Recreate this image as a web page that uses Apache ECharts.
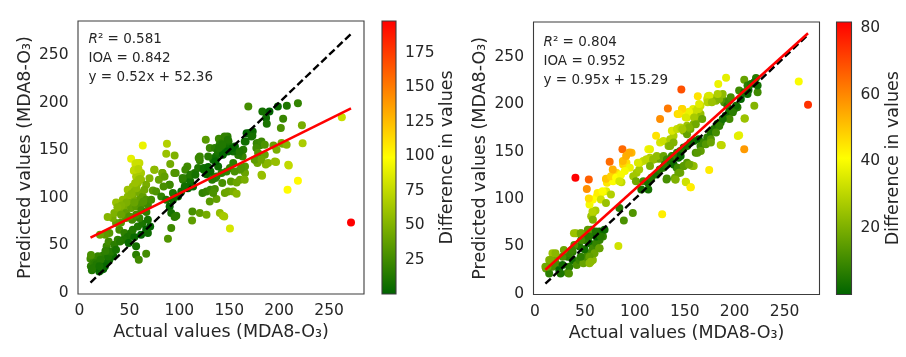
<!DOCTYPE html>
<html><head><meta charset="utf-8">
<script src="https://cdn.jsdelivr.net/npm/echarts@6/dist/echarts.min.js"></script>
<style>html,body{margin:0;padding:0;background:#fff}#c{width:906px;height:357px}</style>
</head><body><div id="c"></div>
<script>
// ---------- DATA ----------
// [actual, predicted] pairs, model 1 (left panel)
const leftPoints = [
[11,36],[11.4,28],[13.8,31.5],[16.4,26.2],[19.8,22.7],[23.8,25.2],[14.8,36.7],[19.8,33.2],[25.8,31.5],[29.9,35],[33.9,38.5],[31.5,42.7],[27.2,49],[29.2,54.2],[34.9,50.7],[38.3,56],[23.2,39.2],[18.5,38.5],[11.5,40],[12.4,23.8],[15.4,31.5],[22,24.4],[25.5,28],[28.8,38.4],[30.5,43.7],[17,30],[21,35],[26,44],[13,26],[20,28],
[39.9,66.4],[45,62.9],[48.3,58.7],[51.7,62.9],[55,58.7],[44,55.9],[49.3,52.4],[53.4,66.4],[58.4,69.9],[62.8,72.7],[66.8,66.4],[70.8,69.9],[68.5,76.9],[60,78.7],[52.7,76.9],[46.6,78.7],[41.6,74.1],[36.6,73.4],[33.2,78.7],[29.9,62.9],[25.8,61.2],[20.5,61.2],[61.7,61.2],[56.7,49],[36.6,45.5],[40.6,54.2],[68.5,63],[56.7,40.2],[59.4,35],[66.8,41.3],
[51.7,140.9],[63.4,154.9],[56,135.7],[58.4,131.1],[54.4,128.3],[61.7,125.9],[56.7,122.4],[61.7,118.9],[58.4,115.4],[53.4,111.9],[48.3,108.4],[55,106.6],[60,104.9],[63.4,101.4],[66.8,97.9],[60,97.9],[53.4,99.7],[48.3,101.4],[43.3,97.9],[36.6,95.1],[50,94.4],[45,90.9],[39.9,87.4],[34.9,83.9],[51.7,89.2],[56.7,90.9],[61.7,92.7],[68.5,92.7],[71.8,97.9],[73.5,107.7],[75.2,129.4],[70.1,120.6],[66.8,113.6],[65.1,108.4],[46.6,83.9],[41.6,82.2],[50,80.4],[56.7,82.2],[28.2,79.7],[60,136.4],[57,110],[52,104],[64,96],[47,95],[42,92],[38,90],[55,95],[62,87],[67,85],[59,119],
[87.6,156.6],[86.9,146.2],[95.3,144.4],[90.9,135.3],[96.3,125.9],[82.9,125.9],[84.2,122.4],[90.3,113.6],[79.5,118.9],[76.8,106.6],[81.9,101.4],[86.9,97.9],[93.6,104.9],[98.7,101.4],[102,106.6],[103.7,118.9],[108,132.9],[107,120.6],[112,124.1],[115.4,125.9],[118.8,131.1],[120.5,143.4],[120.5,139.2],[124.5,131.1],[127.2,124.8],[111,117.1],[113.8,111.9],[108.7,110.1],[105.4,111.9],[126.5,160.8],[93.6,97.9],[90.3,90.9],[91.9,83.9],[95.3,79.7],[97,81.1],[91.9,68.2],[88.6,57],[113.1,85.7],[112.8,76.2],[120.5,83.9],[127.2,82.2],[123.2,104.9],[127.2,106.6],[131.2,108.4],[135.6,109.1],[130.5,96.2],[137.2,98.6],[133.9,104.9],[140.6,83.9],[143.6,81.1],[145,80.4],[150.7,67.8],[145.6,104.9],[149,106.6],[154,106.6],[157.4,104.2],[151.7,117.1],[157.4,116.1],[160.7,118.9],[165.8,125.9],[165.8,132.9],[163.4,143.4],[164.1,150.3],[159,145],[154,136.4],[150.7,131.1],[147.3,127.6],[142.3,125.9],[137.2,122.4],[133.9,120.6],[138.9,132.9],[136.6,143.4],[133.9,139.9],[128.9,143.4],[130.5,152.1],[135.6,152.1],[140.6,153.8],[147.3,153.8],[149.3,159.1],[148.3,164.3],[139.6,161.9],[142.3,157.3],[144,146.9],[154,148.6],[155.7,153.8],[167.4,167.8],[173.5,169.6],[173.2,165],[166.4,159.1],[177.5,157.3],[180.9,155.2],[175.8,139.9],[178.2,136.4],[182.9,123.1],[186.6,135],[194.3,154.9],[196.9,137.4],[203.4,156.6],[209.7,133.9],[208.4,108.4],[218.8,117.8],[223.5,157.3],[222.8,176.2],[201.7,173.1],[204,182.9],[186.9,183.6],[187.6,177.6],[169.1,195.8],[183.2,190.6],[190.3,190.6],[198.7,195.8],[207.7,196.5],[218.8,199.3],[262.8,184.6],[272,74],[160.7,129.4],
[145.3,164.3],[148.6,160.9],[140.3,155.6],[138.6,148.6],[143.6,145.1],[148.6,148.6],[153.7,152.2],[160.4,148.6],[165.5,159.1],[170.5,167.9],[172.2,164.3],[178.9,157.4],[182.3,159.1],[185.6,155.6],[177.2,152.2],[178.9,146.9],[175.5,139.9],[185.6,145.1],[182.3,139.9],[188.9,136.4],[195.7,138.1],[202.4,157.4],[197.4,150.4],[209.1,134.6],[207.5,155.6],[182.3,124.1],[165.5,118.9],[162.1,131.2],[155.4,127.6],
[57.4,136.4],[55,129.4],[59,130.1],[60.7,119.6],[55.7,115.4],[74.8,129.4],[83.2,125.9],[85.2,122.4],[95,125.9],[90.2,113.6],[84.2,111.9],[103.3,120.7],[106,129.4],[111,124.1],[116.1,124.1],[119.4,141.6],[124.5,129.4],[128.9,132.2],[131.2,127.6],[136.2,138.1],[139.6,152.1],[143,155.6],[136.2,120.7],[143,115.4],[132.9,118.9]
];
// [actual, predicted] pairs, model 2 (right panel)
const rightPoints = [
[11,26.6],[14.2,21.3],[17.5,28.4],[20.9,31.9],[24.3,24.8],[27.6,30.1],[32.7,22],[34.4,28.4],[37.7,35.5],[32.7,39],[27.6,39],[20.9,39],[17.5,42.6],[14.2,35.5],[12.5,28.4],[41.8,30.1],[44.5,35.5],[48.5,31.9],[51.2,39],[54.6,31.9],[58,35.5],[52.9,42.6],[49.5,46.8],[44.5,49.6],[39.4,51.4],[37.7,44.3],[41.1,63.8],[46.2,63.8],[51.2,58.5],[54.6,53.2],[58,47.9],[61.3,53.2],[64.7,56.7],[68.1,60.3],[69.7,67.4],[64.7,65.6],[59.6,63.8],[56.3,67.4],[52.9,67.4],[49.5,56.7],[46.2,56.7],[34.4,42.6],[64.7,47.9],[59.6,42.6],[54.6,39],[61.3,60.3],[83.5,50.3],[89,77.2],[98,85.1],[84.5,90.4],[10.4,28.3],[15.5,35.4],[20.5,42.6],[28.9,46],[37,46],[39,63.8],[45.8,63.8],[54.2,60.2],[61,65.5],[65.8,60.2],[64.3,47.9],[55.9,33.6],[34,21.3],[25.6,21.3],[45.8,38.9],
[56.3,81.6],[58,85.1],[60.6,87.9],[58,78],[57.6,86.8],[54.6,94],[58,99.3],[62,102.8],[66.4,106.4],[71.4,108.2],[53.9,100.4],[51.9,110.6],[53.9,120.6],[40.5,122.3],[71.4,120.6],[76.5,120.6],[72.1,117],[78.2,118.8],[74.8,139.4],[87.6,152.5],[96.7,148.9],[88.3,136.5],[91.6,138.3],[95,133],[90,129.4],[81.5,127.7],[84.9,124.1],[86.6,117.7],[98.4,124.1],[101.8,127.7],[104.4,131.2],[101.1,118.8],[105.1,138.3],[108.5,140.1],[111.9,141.8],[115.2,143.6],[118.6,141.8],[122,142.6],[125.3,142.6],[113.5,152.5],[115.2,152.5],[121.3,166.7],[125.3,184.4],[133.1,195.7],[146.6,215.6],[142.9,189.7],[147.2,195],[148.9,191.5],[152.3,186.2],[155.7,191.5],[158.4,195],[163.1,208.5],[173.2,208.5],[183.6,221.6],[191.4,228],[209.6,225.9],[204.5,214.5],[212.9,211],[213.9,215.2],[223,212.8],[219.7,198.6],[221.4,227.7],[264.2,224.1],[273.5,199.6],[210.2,185.1],[204.5,167.4],[209.6,152.5],[186,157],[174.5,130.5],[155.7,112.4],[151.3,117.7],[127.4,83.7],[140.5,120.6],[132.1,121.6],[113.5,109.9],[108.5,118.8],
[62.7,106.4],[67.7,108.1],[66,99.3],[71.1,95.7],[76.1,104.6],[71.1,121.3],[76.1,124],[81.2,122.3],[86.2,125.9],[84.5,118.7],[77.9,131.2],[88,140],[91.3,145.3],[94.6,149],
[106.5,109.9],[113.2,117],[116.6,122.3],[121.6,125.9],[125,131.2],[128.4,133],[130,136.5],[131.8,120.5],[140.2,122.3],[143.6,127.7],[141.9,133],[136.8,138.3],[133.5,141.8],[138.5,145.3],[143.6,143.6],[103.1,138.3],[111.5,141.8],[118.3,141.8],
[125.3,159.6],[128.7,161.3],[135.4,163.1],[138.8,166.7],[137.1,172],[142.2,173.8],[145.6,175.5],[148.9,172],[152.3,168.4],[155.7,173.8],[159,179.1],[162.4,184.4],[165.8,189.7],[164.1,195],[165.8,198.6],[172.5,205.7],[175.9,203.9],[179.2,206.4],[182.6,205.7],[186,209.2],[187.7,205.7],[189.4,202.1],[192.7,198.6],[194.4,203.9],[196.1,207.4],[122,145.4],[115.2,134.8],[128.7,145.4],[133.8,156],[138.8,159.6],[152.3,177.3],[159,191.5],[167.5,184.4],[135.4,156],
[132.1,141.8],[137.1,145.4],[142.2,148.9],[145.6,150.7],[148.9,154.3],[152.3,156],[155.7,159.6],[159,161.3],[164.1,163.1],[165.8,156],[169.1,159.6],[172.5,164.9],[175.9,170.2],[179.2,173.8],[182.6,179.1],[186,180.9],[191,188],[194.4,191.5],[199.5,195],[202.8,196.8],[206.2,205.7],[209.6,212.8],[212.9,219.9],[216.3,221.6],[219.7,223.4],[223,219.9],[135.4,140.1],[138.8,136.5],[142.9,133],[145.6,127.7],[148.9,134.8],[152.3,138.3],[156.3,135.8],[159,134.8],
[174.5,209.1],[172.9,202.1],[181.3,203.8],[184.6,205.6],[188,211],[183,211],[177.2,202.1],[162.8,195],[164.4,200.3],[154.3,192.1],[147.6,195],[144.2,189.7],[151,186.2],[159.4,186.2],[161.1,179],[154.3,175.5],[147.6,173.7],[201.5,198.5],[198.2,191.5],[194.8,184.4],[188,184.4],[184.6,177.2],[181.3,170.2],[176.2,163.1],[171.2,157.8],[166.1,150.7],[161,148.9],[176.2,159.6],[187.1,156.7],[203.2,166.6],[209.9,185.1],[162.8,148.9],[145.9,145.3],[149.2,134.7],[157.7,134.7],[154.3,136.5],[144.2,127.7],[140.9,120.5],[151,118.1],[156.1,112.3]
];
const leftFit = [0.52, 52.36];   // slope, intercept
const rightFit = [0.95, 15.29];
const leftStats = ['0.581', '0.842', 'y = 0.52x + 52.36'];
const rightStats = ['0.804', '0.952', 'y = 0.95x + 15.29'];
const axisTicks = [0, 50, 100, 150, 200, 250];
const cbTicksLeft = [25, 50, 75, 100, 125, 150, 175];
const cbTicksRight = [20, 40, 60, 80];
const cmapColors = ['#006400', '#ffff00', '#ff0000'];

// ---------- CHART ----------
const FONT = 'DejaVu Sans';
const TXT = '#262626';
const FRAME = '#3c3c3c';
const chart = echarts.init(document.getElementById('c'));

function withDiff(pts) { return pts.map(p => [p[0], p[1], Math.abs(p[1] - p[0])]); }
const dL = withDiff(leftPoints), dR = withDiff(rightPoints);
const vminL = Math.min(...dL.map(d => d[2])), vmaxL = Math.max(...dL.map(d => d[2]));
const vminR = Math.min(...dR.map(d => d[2])), vmaxR = Math.max(...dR.map(d => d[2]));
function ext(pts) { const xs = pts.map(p => p[0]); return [Math.min(...xs), Math.max(...xs)]; }
const eL = ext(leftPoints), eR = ext(rightPoints);

const grids = [
  {left: 78, top: 21, width: 286, height: 273},
  {left: 382, top: 21, width: 14, height: 273},
  {left: 533.5, top: 22, width: 286, height: 272.5},
  {left: 836.5, top: 22, width: 15, height: 272.5}
].map(g => Object.assign(g, {show: true, borderColor: FRAME, borderWidth: 1.1, backgroundColor: 'transparent', z: 10, containLabel: false, outerBoundsMode: 'none'}));

const labelStyle = {fontFamily: FONT, fontSize: 15.5, color: TXT};
const nameStyle = {fontFamily: FONT, fontSize: 17.5, color: TXT};

function mainX(gi) {
  return {gridIndex: gi, type: 'value', min: -1.5, max: 285,
    name: 'Actual values (MDA8-O\u2083)', nameLocation: 'middle', nameGap: 27, nameTextStyle: nameStyle,
    axisLine: {show: false}, axisTick: {show: false}, splitLine: {show: false},
    axisLabel: Object.assign({margin: 9, customValues: axisTicks}, labelStyle)};
}
function mainY(gi, max) {
  return {gridIndex: gi, type: 'value', min: -1, max: max,
    name: 'Predicted values (MDA8-O\u2083)', nameLocation: 'middle', nameRotate: 90, nameGap: 44, nameTextStyle: nameStyle,
    axisLine: {show: false}, axisTick: {show: false}, splitLine: {show: false},
    axisLabel: Object.assign({margin: 9.5, customValues: axisTicks}, labelStyle)};
}
function cbX(gi) { return {gridIndex: gi, type: 'value', min: 0, max: 1, show: false}; }
function cbY(gi, vmin, vmax, ticks, gap) {
  return {gridIndex: gi, type: 'value', position: 'right', min: vmin, max: vmax,
    name: 'Difference in values', nameLocation: 'middle', nameRotate: 90, nameGap: gap, nameTextStyle: nameStyle,
    axisLine: {show: false}, splitLine: {show: false},
    axisTick: {show: true, length: 5, customValues: ticks, lineStyle: {color: FRAME, width: 1}},
    axisLabel: Object.assign({margin: 9, customValues: ticks}, labelStyle)};
}
function colorbar(xi, vmin, vmax) {
  return {type: 'custom', xAxisIndex: xi, yAxisIndex: xi, silent: true, data: [[0, vmin]],
    renderItem: (params, api) => {
      const a = api.coord([0, vmax]), b = api.coord([1, vmin]);
      return {type: 'rect', shape: {x: a[0], y: a[1], width: b[0] - a[0], height: b[1] - a[1]},
        style: {fill: new echarts.graphic.LinearGradient(0, 1, 0, 0, [
          {offset: 0, color: cmapColors[0]}, {offset: 0.5, color: cmapColors[1]}, {offset: 1, color: cmapColors[2]}])}};
    }};
}
function scatter(xi, data) {
  return {type: 'scatter', xAxisIndex: xi, yAxisIndex: xi, data: data, symbolSize: 8, itemStyle: {opacity: 1}, z: 2};
}
function lines(xi, e, fit) {
  return [
    {type: 'line', xAxisIndex: xi, yAxisIndex: xi, data: [[e[0], e[0]], [e[1], e[1]]], symbol: 'none', silent: true, z: 4,
      lineStyle: {color: '#000', width: 2.4, type: [7.5, 3.5]}},
    {type: 'line', xAxisIndex: xi, yAxisIndex: xi, data: [[e[0], fit[0] * e[0] + fit[1]], [e[1], fit[0] * e[1] + fit[1]]], symbol: 'none', silent: true, z: 5,
      lineStyle: {color: '#ff0000', width: 2.5}}
  ];
}
function statTitles(left, top, s) {
  const ts = {fontFamily: FONT, fontSize: 13.5, fontWeight: 'normal', color: TXT,
    rich: {i: {fontFamily: FONT, fontSize: 13.5, fontStyle: 'italic', color: TXT}}};
  return [
    {text: '{i|R}\u00b2 = ' + s[0], left: left, top: top, padding: 0, textStyle: ts},
    {text: 'IOA = ' + s[1], left: left, top: top + 19, padding: 0, textStyle: ts},
    {text: s[2], left: left, top: top + 38, padding: 0, textStyle: ts}
  ];
}

chart.setOption({
  animation: false,
  backgroundColor: '#fff',
  title: statTitles(88.5, 32.5, leftStats).concat(statTitles(543.5, 35, rightStats)),
  grid: grids,
  xAxis: [mainX(0), cbX(1), mainX(2), cbX(3)],
  yAxis: [mainY(0, 285.5), cbY(1, vminL, vmaxL, cbTicksLeft, 42), mainY(2, 287), cbY(3, vminR, vmaxR, cbTicksRight, 32)],
  visualMap: [
    {type: 'continuous', show: false, seriesIndex: 0, dimension: 2, min: vminL, max: vmaxL, inRange: {color: cmapColors}},
    {type: 'continuous', show: false, seriesIndex: 4, dimension: 2, min: vminR, max: vmaxR, inRange: {color: cmapColors}}
  ],
  series: [
    scatter(0, dL), ...lines(0, eL, leftFit), colorbar(1, vminL, vmaxL),
    scatter(2, dR), ...lines(2, eR, rightFit), colorbar(3, vminR, vmaxR)
  ]
});
</script></body></html>
